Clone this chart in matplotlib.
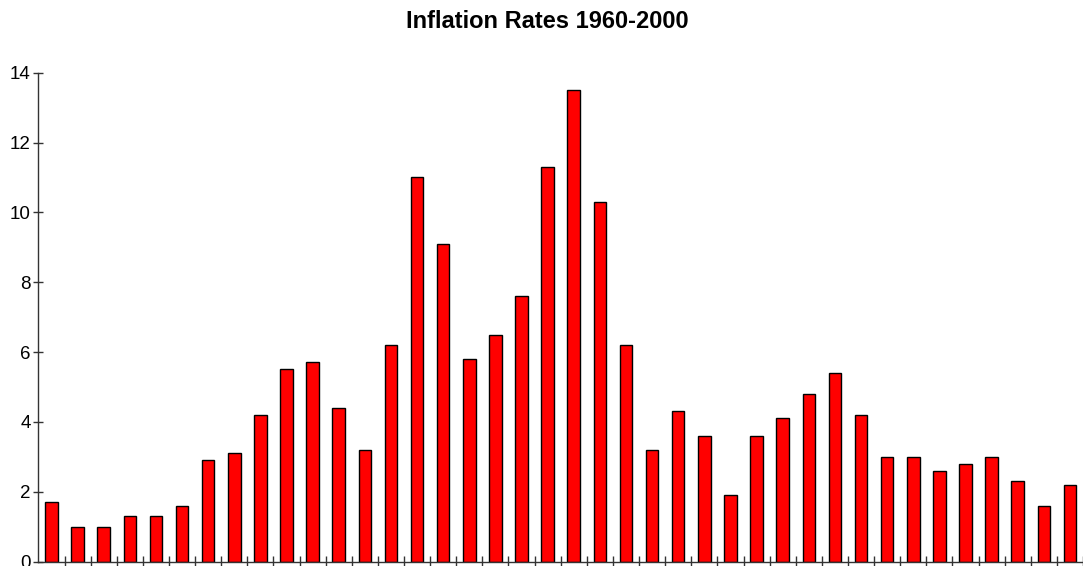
import numpy as np
import matplotlib
matplotlib.use("Agg")
import matplotlib.pyplot as plt

# inflation rate per year
years = list(range(1960, 2000))
rates = [1.7, 1.0, 1.0, 1.3, 1.3, 1.6, 2.9, 3.1, 4.2, 5.5,
         5.7, 4.4, 3.2, 6.2, 11.0, 9.1, 5.8, 6.5, 7.6, 11.3,
         13.5, 10.3, 6.2, 3.2, 4.3, 3.6, 1.9, 3.6, 4.1, 4.8,
         5.4, 4.2, 3.0, 3.0, 2.6, 2.8, 3.0, 2.3, 1.6, 2.2]
yticks = [0, 2, 4, 6, 8, 10, 12, 14]

plt.rcParams['font.family'] = ['Liberation Sans', 'DejaVu Sans']

W, H = 1083, 566
fig = plt.figure(figsize=(W / 100, H / 100), dpi=100)
ax = fig.add_axes([38.4 / W, 4.5 / H, (W - 38.4) / W, 488.8 / H])

x = np.arange(len(years))
ax.bar(x, rates, width=0.48, color='#ff0000', edgecolor='black', linewidth=1.0)

ax.set_xlim(-0.5, -0.5 + (W - 38.4) / 26.2)
ax.set_ylim(0, 14)
ax.set_yticks(yticks)
ax.set_yticklabels([str(t) for t in yticks], fontsize=13.5)
ax.set_xticks(x + 0.5)
ax.set_xticklabels([])

for side in ['top', 'right']:
    ax.spines[side].set_visible(False)
for side in ['left', 'bottom']:
    ax.spines[side].set_color('#333333')
    ax.spines[side].set_linewidth(1.0)

ax.tick_params(axis='y', direction='inout', length=7, width=1.0, color='#333333', pad=2)
ax.tick_params(axis='x', direction='inout', length=8, width=1.0, color='#333333')

fig.text(0.505, 1 - 21 / H, 'Inflation Rates 1960-2000', ha='center', va='center',
         fontsize=17, fontweight='bold')

fig.savefig('out.png', dpi=100)
